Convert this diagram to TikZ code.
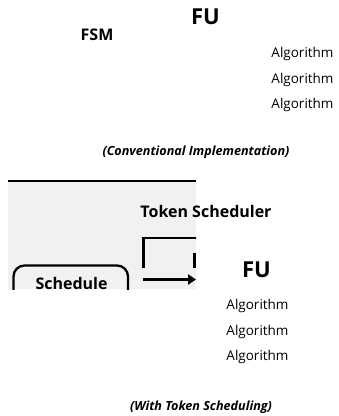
\documentclass[tikz,border=0pt]{standalone}
\usepackage{fontspec}
\setmainfont{Open Sans}
\usetikzlibrary{arrows.meta}
\definecolor{panelgray}{HTML}{F1F1F1}
\tikzset{
  title/.style={font=\fontsize{22bp}{24bp}\selectfont\bfseries, inner sep=0pt},
  label/.style={font=\fontsize{16bp}{18bp}\selectfont\bfseries, inner sep=0pt},
  algo/.style={font=\fontsize{13.5bp}{15bp}\selectfont, inner sep=0pt},
  caption/.style={font=\fontsize{12.6bp}{15bp}\selectfont\bfseries\itshape, inner sep=0pt},
  thick line/.style={line width=2.3bp, black},
}
\begin{document}
\begin{tikzpicture}[x=1bp,y=-1bp]
\useasboundingbox (0,0) rectangle (339,416);

% upper part: conventional implementation
\node[title] (fu1) at (205.5,17) {FU};
\node[label] (fsm) at (97,35) {FSM};
\node[algo] (a1) at (302.5,54) {Algorithm};
\node[algo] (a2) at (302.5,79.5) {Algorithm};
\node[algo] (a3) at (302.5,105) {Algorithm};
\node[caption] (cap1) at (196,152) {(Conventional Implementation)};

% lower part: token scheduling panel
\fill[panelgray] (8,181) rectangle (196,289);
\draw[thick line] (8,181) -- (196,181);
\begin{scope}
  \clip (8,181) rectangle (196,289);
  \draw[thick line, rounded corners=11bp] (13.5,300) -- (13.5,265.5) -- (128,265.5) -- (128,300);
  \draw[thick line] (143.5,268) -- (143.5,237.8) -- (197,237.8);
  \draw[thick line] (194.5,253) -- (194.5,268);
  \coordinate (arrs) at (143,279.5);
  \coordinate (arre) at (196,279.5);
  \draw[thick line, -{Triangle[length=8bp,width=10bp]}] (arrs) -- (arre);
\end{scope}
\node[label] (ts) at (206,211) {Token Scheduler};
\node[label] (sch) at (71.5,283.5) {Schedule};

\node[title] (fu2) at (256.5,269.5) {FU};
\node[algo] (b1) at (257.5,306) {Algorithm};
\node[algo] (b2) at (257.5,331.5) {Algorithm};
\node[algo] (b3) at (257.5,357) {Algorithm};
\node[caption] (cap2) at (201,407) {(With Token Scheduling)};
\end{tikzpicture}
\end{document}
